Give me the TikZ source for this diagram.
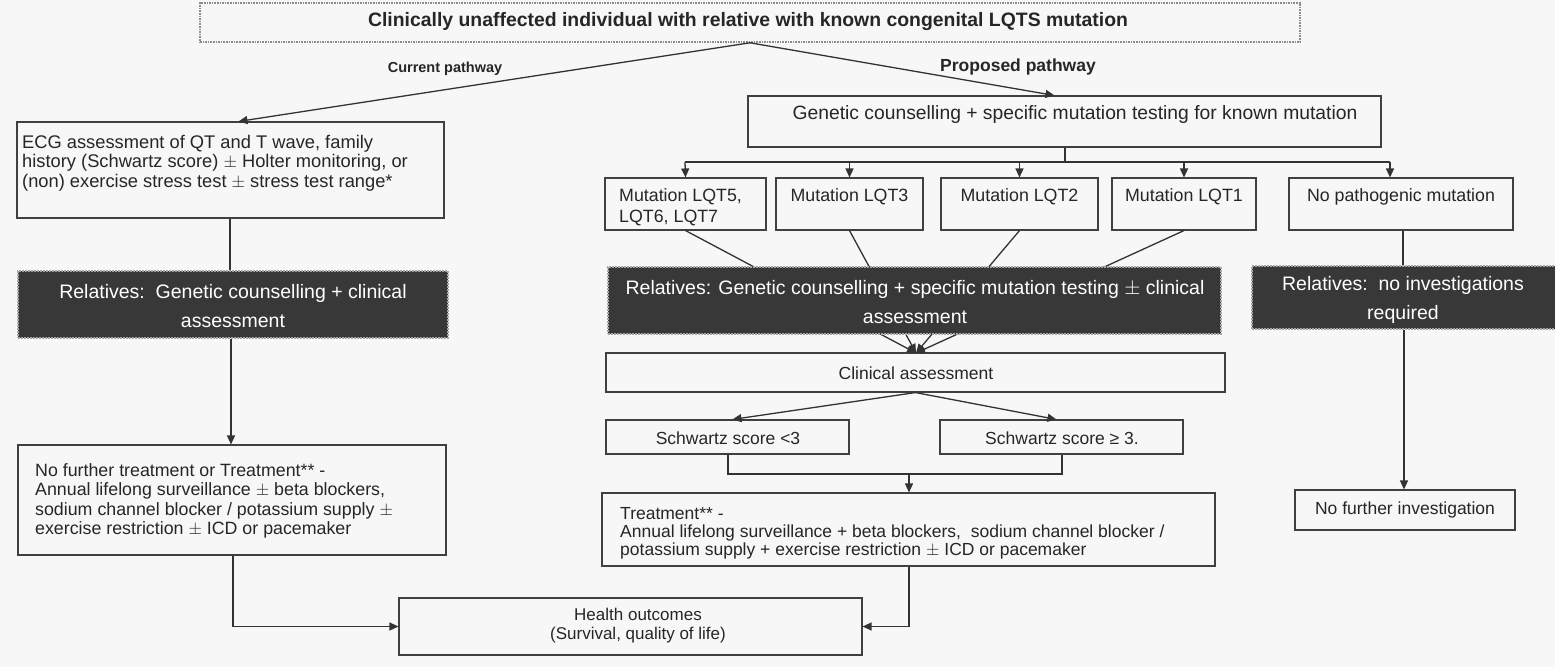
\documentclass[tikz,border=0pt]{standalone}
\usepackage{fontspec}
\setmainfont{Liberation Sans}
\usetikzlibrary{arrows.meta,fit,calc}
\begin{document}
\begin{tikzpicture}[x=1pt,y=-1pt,
 box/.style={draw=black!75, line width=1.1pt, inner sep=0pt},
 topbox/.style={draw=black!45, densely dotted, line width=1.6pt, inner sep=0pt},
 dark/.style={draw=black!35, densely dotted, line width=2pt, fill=black!78, inner sep=0pt},
 txt/.style={inner sep=0pt, font=\fontsize{17.8}{19.5}\selectfont, text=black!85},
 wtxt/.style={inner sep=0pt, font=\fontsize{19.5}{29.5}\selectfont, text=white, align=center},
 lab/.style={inner sep=0pt, font=\bfseries\fontsize{15.5}{18}\selectfont, text=black!85},
 arr/.style={-{Triangle[length=9pt,width=8pt]}, line width=1.3pt, draw=black!80},
 ln/.style={line width=1.3pt, draw=black!80}]
\fill[black!3] (0,0) rectangle (1555,667);
\useasboundingbox (0,0) rectangle (1555,667);

% top
\node[topbox, fit={(200,3) (1300,42)}] (top) {};
\node[inner sep=0pt, font=\bfseries\fontsize{19.4}{22}\selectfont, text=black!85] (toptxt) at (748,22) {Clinically unaffected individual with relative with known congenital LQTS mutation};
\node[lab, font=\bfseries\fontsize{14.5}{17}\selectfont] (curlab) at (445,69) {Current pathway};
\node[lab, font=\bfseries\fontsize{17.5}{20}\selectfont] (prolab) at (1018,67) {Proposed pathway};

% left column
\node[box, fit={(17,122) (444,218)}] (ecg) {};
\node[txt, anchor=west, align=left, font=\fontsize{18.3}{19.5}\selectfont] (ecgt) at (22,163) {ECG assessment of QT and T wave, family\\history (Schwartz score) $\pm$ Holter monitoring, or\\(non) exercise stress test $\pm$ stress test range*};
\node[dark, fit={(18,271) (448,338)}] (ldark) {};
\node[wtxt] (ldarkt) at (233,306) {Relatives:\ \ Genetic counselling + clinical\\assessment};
\node[box, fit={(18,445) (446,555)}] (nft) {};
\node[txt, anchor=west, align=left] (nftt) at (35,501) {No further treatment or Treatment** -\\Annual lifelong surveillance $\pm$ beta blockers,\\sodium channel blocker / potassium supply $\pm$\\exercise restriction $\pm$ ICD or pacemaker};

% proposed pathway
\node[box, fit={(748,96) (1381,147)}] (gen) {};
\node[txt, font=\fontsize{19.3}{22}\selectfont] (gent) at (1075,115) {Genetic counselling + specific mutation testing for known mutation};
\coordinate (busL) at (685,162);
\coordinate (busR) at (1390,162);
\node[box, fit={(605,178) (766,230)}] (m5) {};
\node[txt, anchor=west, align=left, font=\fontsize{17.8}{21}\selectfont] (m5t) at (619,207) {Mutation LQT5,\\LQT6, LQT7};
\node[box, fit={(776,178) (923,230)}] (m3) {};
\node[txt] (m3t) at (849.5,197) {Mutation LQT3};
\node[box, fit={(941,178) (1098,230)}] (m2) {};
\node[txt] (m2t) at (1019.5,197) {Mutation LQT2};
\node[box, fit={(1112,178) (1256,230)}] (m1) {};
\node[txt] (m1t) at (1184,197) {Mutation LQT1};
\node[box, fit={(1289,178) (1513,230)}] (np) {};
\node[txt] (npt) at (1401,197) {No pathogenic mutation};

\node[box, fit={(606,353) (1225,392)}] (clin) {};
\node[txt, font=\fontsize{17.5}{19}\selectfont] (clint) at (916,373) {Clinical assessment};
\coordinate (cin) at (916,353);

% lines from mutation boxes to clinical assessment (behind dark box)
\draw[arr] (m5.south) -- (cin);
\draw[arr] (m3.south) -- (cin);
\draw[arr] (m2.south) -- (cin);
\draw[arr] (m1.south) -- (cin);

\node[dark, fit={(608,267) (1221,334)}] (mdark) {};
\node[wtxt] (mdarkt) at (915,302) {Relatives: Genetic counselling + specific mutation testing $\pm$ clinical\\assessment};

\node[box, fit={(606,420) (849,454)}] (s1) {};
\node[txt, font=\fontsize{17.5}{19}\selectfont] (s1t) at (728,438) {Schwartz score <3};
\node[box, fit={(940,420) (1183,454)}] (s2) {};
\node[txt, font=\fontsize{17.5}{19}\selectfont] (s2t) at (1062,438) {Schwartz score ≥ 3.};
\node[box, fit={(602,493) (1215,566)}] (trt) {};
\node[txt, anchor=west, align=left, font=\fontsize{17.5}{18}\selectfont] (trtt) at (620,533) {Treatment** -\\Annual lifelong surveillance + beta blockers,\ \ sodium channel blocker /\\potassium supply + exercise restriction $\pm$ ICD or pacemaker};

% right column
\node[dark, fit={(1252,266) (1556,329)}] (rdark) {};
\node[wtxt] (rdarkt) at (1403,300) {Relatives:\ \ no investigations\\required};
\node[box, fit={(1295,490) (1515,530)}] (nfi) {};
\node[txt, font=\fontsize{17.5}{19}\selectfont] (nfit) at (1405,510) {No further investigation};

% health outcomes
\node[box, fit={(399,598) (862,655)}] (health) {};
\node[txt, align=center, font=\fontsize{17}{19}\selectfont] (healtht) at (638,626) {Health outcomes\\(Survival, quality of life)};

% connectors
\draw[arr] (top.south) -- ($(ecg.north west)+(222,0)$);
\draw[arr] (top.south) -- ($(gen.north west)+(307,0)$);
\draw[ln] (ecg.south -| 230,0) -- (ldark.north -| 230,0);
\draw[arr] (ldark.south -| 231,0) -- (nft.north -| 231,0);
\draw[ln] (gen.south -| 1065,0) -- (1065,162);
\draw[ln] (busL) -- (busR);
\draw[arr] (busL) -- (m5.north);
\draw[arr] (busL -| m3.north) -- (m3.north);
\draw[arr] (busL -| m2.north) -- (m2.north);
\draw[arr] (busL -| m1.north) -- (m1.north);
\draw[arr] (busR) -- (np.north -| busR);
\draw[ln] (np.south -| 1403,0) -- (rdark.north -| 1403,0);
\draw[arr] (rdark.south -| 1404,0) -- (nfi.north -| 1404,0);
\draw[arr] (clin.south) -- ($(s1.north west)+(127,0)$);
\draw[arr] (clin.south) -- ($(s2.north west)+(117,0)$);
\draw[ln] (s1.south -| 728,0) -- (728,474) -- (1062,474) -- (s2.south -| 1062,0);
\draw[arr] (909,474) -- (trt.north -| 909,0);
\draw[arr] (nft.south -| 233,0) |- (health.west);
\draw[arr] (trt.south -| 909,0) |- (health.east);
\end{tikzpicture}
\end{document}
